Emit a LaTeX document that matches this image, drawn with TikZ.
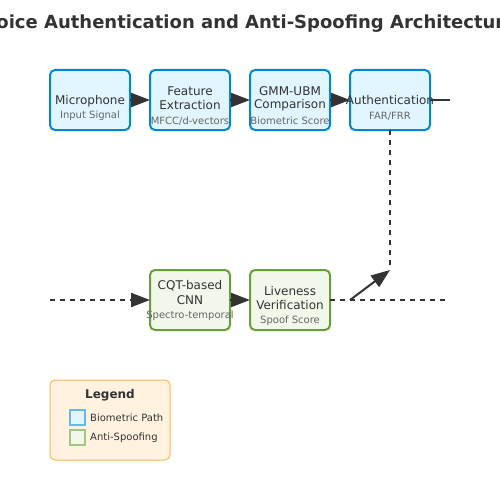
\documentclass[tikz,border=0pt]{standalone}
\usepackage{fontspec}
\setmainfont{DejaVu Sans}
\usetikzlibrary{arrows.meta}
\definecolor{bioF}{HTML}{E1F5FE}
\definecolor{bioD}{HTML}{0288D1}
\definecolor{spfF}{HTML}{F1F8E9}
\definecolor{spfD}{HTML}{689F38}
\definecolor{legF}{HTML}{FFF3E0}
\definecolor{legD}{HTML}{FFB74D}
\definecolor{txt}{HTML}{333333}
\definecolor{subtxt}{HTML}{666666}
\begin{document}
\begin{tikzpicture}[x=1pt, y=-1pt]
\tikzset{bionoeud/.style={draw=bioD, fill=bioF, line width=2pt, rounded corners=5pt, minimum width=80pt, minimum height=60pt, inner sep=0pt, outer sep=0pt},
spfnoeud/.style={bionoeud, draw=spfD, fill=spfF},
titre/.style={text=txt, font=\fontsize{12}{14}\selectfont, inner sep=0pt},
soustitre/.style={text=subtxt, font=\fontsize{10}{12}\selectfont, inner sep=0pt},
fleche/.style={draw=txt, line width=2pt, -{Triangle[length=19pt, width=14pt]}},
tiret/.style={draw=txt, line width=2pt, dash pattern=on 5pt off 5pt}}
\useasboundingbox (0,0) rectangle (500,500);
\clip (0,0) rectangle (500,500);
\node[text=txt, font=\fontsize{18}{22}\selectfont\bfseries] (T) at (250,24) {Voice Authentication and Anti-Spoofing Architecture};
\node[bionoeud] (M) at (90,100) {};
\node[bionoeud] (F) at (190,100) {};
\node[bionoeud] (G) at (290,100) {};
\node[bionoeud] (A) at (390,100) {};
\node[spfnoeud] (C) at (190,300) {};
\node[spfnoeud] (L) at (290,300) {};
\node[titre] (M1) at (90,101) {Microphone};
\node[soustitre] (M2) at (90,116) {Input Signal};
\node[titre] (F1) at (190,91) {Feature};
\node[titre] (F2) at (190,105) {Extraction};
\node[soustitre] (F3) at (190,121) {MFCC/d-vectors};
\node[titre] (G1) at (290,91) {GMM-UBM};
\node[titre] (G2) at (290,105) {Comparison};
\node[soustitre] (G3) at (290,121) {Biometric Score};
\node[titre] (A1) at (390,100) {Authentication};
\node[soustitre] (A2) at (390,116) {FAR/FRR};
\node[titre] (C1) at (190,286) {CQT-based};
\node[titre] (C2) at (190,300) {CNN};
\node[soustitre] (C3) at (190,316) {Spectro-temporal};
\node[titre] (L1) at (290,291) {Liveness};
\node[titre] (L2) at (290,305) {Verification};
\node[soustitre] (L3) at (290,321) {Spoof Score};
\coordinate (S) at (450,100);
\coordinate (E) at (50,300);
\coordinate (J) at (390,270);
\coordinate (D) at (350,300);
\coordinate (R) at (447,300);
\draw[fleche] (M.east) -- (F.west);
\draw[fleche] (F.east) -- (G.west);
\draw[fleche] (G.east) -- (A.west);
\draw[draw=txt, line width=2pt] (A.east) -- (S);
\draw[tiret] (A.south) -- (J);
\draw[tiret, -{Triangle[length=19pt, width=14pt]}] (E) -- (C.west);
\draw[fleche] (C.east) -- (L.west);
\draw[tiret] (L.east) -- (R);
\draw[fleche] (D) -- (J);
\node[draw=legD, fill=legF, line width=1pt, rounded corners=5pt, minimum width=120pt, minimum height=80pt, inner sep=0pt] (K) at (110,420) {};
\node[text=txt, font=\fontsize{12}{14}\selectfont\bfseries, inner sep=0pt] (K1) at (110,395) {Legend};
\node[draw=bioD!60, fill=bioF, line width=1.5pt, minimum size=15pt, inner sep=0pt] (K2) at (77.5,417.5) {};
\node[draw=spfD!60, fill=spfF, line width=1.5pt, minimum size=15pt, inner sep=0pt] (K3) at (77.5,437.5) {};
\node[text=txt, font=\fontsize{10}{12}\selectfont, inner sep=0pt, anchor=west] (K4) at (90,418) {Biometric Path};
\node[text=txt, font=\fontsize{10}{12}\selectfont, inner sep=0pt, anchor=west] (K5) at (90,438) {Anti-Spoofing};
\end{tikzpicture}
\end{document}
